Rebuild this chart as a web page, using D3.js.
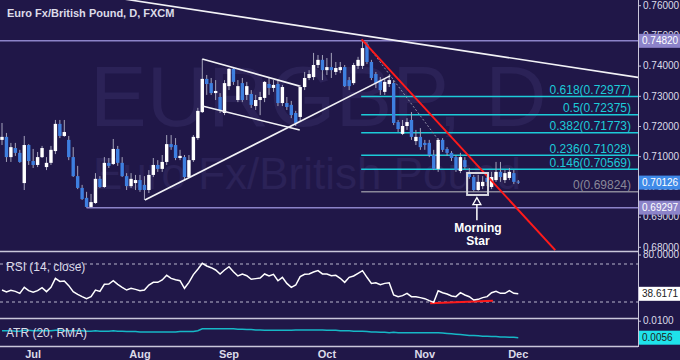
<!DOCTYPE html>
<html>
<head>
<meta charset="utf-8">
<script src="https://cdn.jsdelivr.net/npm/d3@7"></script>
<style>
  body { margin: 0; background: #201748; }
  svg { display: block; }
</style>
</head>
<body>
<svg id="chart" width="680" height="360"></svg>
<script>
// month ticks (bar index of first trading day)
const monthLabels = ['Jul', 'Aug', 'Sep', 'Oct', 'Nov', 'Dec'];
const monthIdx = [7, 31, 51, 73, 95, 116];

// daily OHLC, EUR/GBP
const open = [0.7154,0.7164,0.7097,0.7127,0.7111,0.7011,0.7137,0.7084,0.7071,0.7097,
0.7064,0.7078,0.7117,0.7207,0.7167,0.7154,0.7097,0.7034,0.6995,0.6962,
0.6932,0.6945,0.7025,0.6998,0.7078,0.7074,0.7124,0.7078,0.7034,0.7001,
0.7011,0.7021,0.7005,0.6988,0.7038,0.7071,0.7058,0.7081,0.7140,0.7137,
0.7094,0.7097,0.7031,0.7087,0.7160,0.7246,0.7356,0.7342,0.7309,0.7296,
0.7243,0.7332,0.7389,0.7286,0.7342,0.7303,0.7306,0.7266,0.7286,0.7293,
0.7339,0.7326,0.7339,0.7276,0.7276,0.7270,0.7243,0.7230,0.7329,0.7359,
0.7362,0.7402,0.7419,0.7385,0.7395,0.7379,0.7385,0.7395,0.7352,0.7342,
0.7399,0.7399,0.7471,0.7412,0.7372,0.7352,0.7313,0.7339,0.7342,0.7213,
0.7174,0.7200,0.7220,0.7150,0.7164,0.7144,0.7144,0.7104,0.7058,0.7154,
0.7124,0.7111,0.7097,0.7051,0.7087,0.7048,0.7031,0.6988,0.7001,0.7028,
0.6998,0.7021,0.7048,0.7021,0.7028,0.7044,0.7016];
const high = [0.7210,0.7177,0.7144,0.7144,0.7121,0.7167,0.7140,0.7124,0.7114,0.7134,
0.7097,0.7134,0.7220,0.7220,0.7220,0.7167,0.7130,0.7068,0.7005,0.6982,
0.6975,0.7044,0.7034,0.7097,0.7094,0.7157,0.7134,0.7097,0.7044,0.7044,
0.7038,0.7038,0.7034,0.7054,0.7094,0.7087,0.7104,0.7170,0.7170,0.7160,
0.7121,0.7104,0.7104,0.7170,0.7260,0.7422,0.7369,0.7359,0.7352,0.7309,
0.7352,0.7392,0.7392,0.7352,0.7359,0.7346,0.7319,0.7303,0.7313,0.7349,
0.7359,0.7352,0.7352,0.7336,0.7296,0.7283,0.7250,0.7336,0.7379,0.7385,
0.7442,0.7435,0.7435,0.7425,0.7442,0.7412,0.7412,0.7402,0.7362,0.7409,
0.7429,0.7482,0.7478,0.7419,0.7379,0.7362,0.7356,0.7369,0.7352,0.7220,
0.7220,0.7226,0.7246,0.7187,0.7193,0.7154,0.7154,0.7121,0.7160,0.7160,
0.7130,0.7117,0.7104,0.7111,0.7097,0.7061,0.7038,0.7038,0.7034,0.7038,
0.7048,0.7081,0.7081,0.7054,0.7061,0.7054,0.7021];
const low = [0.7137,0.7081,0.7081,0.7101,0.7078,0.6988,0.7071,0.7061,0.7064,0.7094,
0.7054,0.7071,0.7107,0.7160,0.7164,0.7087,0.7031,0.6991,0.6955,0.69297,
0.6930,0.6942,0.6995,0.6995,0.7061,0.7071,0.7068,0.7031,0.6988,0.6995,
0.6988,0.6982,0.6955,0.6978,0.7031,0.7048,0.7048,0.7071,0.7121,0.7087,
0.7087,0.7021,0.7028,0.7081,0.7154,0.7243,0.7303,0.7303,0.7286,0.7243,
0.7236,0.7319,0.7336,0.7279,0.7279,0.7286,0.7260,0.7253,0.7236,0.7279,
0.7303,0.7313,0.7266,0.7266,0.7253,0.7226,0.7200,0.7213,0.7319,0.7352,
0.7352,0.7392,0.7352,0.7369,0.7359,0.7369,0.7375,0.7329,0.7319,0.7336,
0.7389,0.7389,0.7405,0.7352,0.7326,0.7303,0.7303,0.7329,0.7203,0.7180,
0.7170,0.7187,0.7154,0.7137,0.7121,0.7121,0.7097,0.7054,0.7048,0.7114,
0.7101,0.7084,0.7048,0.7044,0.7058,0.7025,0.69824,0.6985,0.6991,0.7001,
0.6991,0.7015,0.7015,0.7011,0.7021,0.7008,0.7008];
const close = [0.7164,0.7097,0.7130,0.7111,0.7081,0.7137,0.7084,0.7071,0.7097,0.7127,
0.7078,0.7121,0.7207,0.7167,0.7180,0.7097,0.7034,0.6995,0.6958,0.6932,
0.6948,0.7025,0.6998,0.7078,0.7068,0.7124,0.7078,0.7034,0.7001,0.7025,
0.7021,0.6988,0.6988,0.7038,0.7071,0.7058,0.7081,0.7140,0.7130,0.7094,
0.7101,0.7031,0.7087,0.7164,0.7250,0.7356,0.7339,0.7309,0.7316,0.7253,
0.7342,0.7389,0.7346,0.7332,0.7286,0.7332,0.7270,0.7286,0.7296,0.7346,
0.7326,0.7336,0.7276,0.7329,0.7263,0.7236,0.7210,0.7329,0.7359,0.7372,
0.7402,0.7419,0.7385,0.7395,0.7385,0.7392,0.7395,0.7332,0.7332,0.7402,
0.7419,0.7458,0.7412,0.7359,0.7342,0.7319,0.7346,0.7352,0.7210,0.7190,
0.7200,0.7213,0.7164,0.7164,0.7130,0.7137,0.7104,0.7058,0.7154,0.7121,
0.7111,0.7094,0.7054,0.7097,0.7064,0.7031,0.6988,0.7015,0.7015,0.7015,
0.7031,0.7048,0.7031,0.7044,0.7048,0.7015,0.70126];

// RSI(14, close)
const rsi = [42.6,40.5,42.3,41.2,39.1,45.4,41.9,40.2,41.9,45.1,
40.9,45.4,54.9,51.7,52.1,47.2,40.9,38.1,35.6,33.5,
35.6,42.6,41.2,48.6,48.9,52.4,48.6,45.4,42.6,44.4,
43.3,41.9,42.6,47.9,50.7,50.7,53.2,58.1,54.9,53.5,
52.4,44.4,50.7,58.8,64.4,70.7,67.9,66.1,63.7,59.5,
63.7,67.2,61.9,57.4,59.5,57.7,53.9,54.6,55.3,59.5,
57.4,59.1,52.4,56.0,49.6,45.4,47.9,56.7,59.1,59.5,
61.6,63.0,59.5,59.5,57.7,58.1,55.0,50.7,56.0,57.4,
60.2,63.0,56.0,49.6,50.3,48.2,49.6,50.3,37.4,35.6,
36.7,39.1,35.6,35.6,34.6,33.5,31.4,29.6,41.9,39.8,
38.4,36.3,35.6,39.8,37.4,35.6,32.1,32.8,34.6,35.6,
39.8,41.2,39.1,39.1,41.9,39.1,38.6171];

// ATR(20, RMA)
const atr = [0.0074,0.0074,0.0074,0.0073,0.0073,0.0075,0.0075,0.0074,0.0074,0.0074,
0.0074,0.0074,0.0075,0.0075,0.0074,0.0074,0.0074,0.0074,0.0074,0.0073,
0.0073,0.0074,0.0073,0.0073,0.0073,0.0074,0.0073,0.0073,0.0072,0.0072,
0.0072,0.0071,0.0071,0.0071,0.0071,0.0071,0.0071,0.0071,0.0071,0.0071,
0.0072,0.0072,0.0072,0.0072,0.0074,0.0079,0.0079,0.0079,0.0079,0.0079,
0.0079,0.0079,0.0079,0.0078,0.0078,0.0077,0.0077,0.0076,0.0076,0.0075,
0.0075,0.0075,0.0075,0.0075,0.0075,0.0075,0.0076,0.0076,0.0076,0.0076,
0.0076,0.0076,0.0076,0.0075,0.0075,0.0075,0.0074,0.0074,0.0074,0.0073,
0.0073,0.0073,0.0072,0.0071,0.0071,0.0070,0.0070,0.0069,0.0070,0.0069,
0.0069,0.0069,0.0069,0.0069,0.0069,0.0069,0.0069,0.0069,0.0069,0.0068,
0.0067,0.0066,0.0065,0.0064,0.0063,0.0062,0.0062,0.0061,0.0060,0.0060,
0.0059,0.0059,0.0058,0.0058,0.0057,0.0057,0.0056];

const priceTicks = [0.68, 0.69, 0.70, 0.71, 0.72, 0.73, 0.74, 0.75, 0.76];
const fibRatios = ['0.618', '0.5', '0.382', '0.236', '0.146', '0'];
const fibPrices = [0.72977, 0.72375, 0.71773, 0.71028, 0.70569, 0.69824];
const swingHigh = 0.74820, swingLow = 0.69297;

// drawn studies, [bar index, price]
const longTrend = [[27.6, 0.7620], [142.9, 0.7361]];
const riseTrend = [[32.1, 0.6955], [87.2, 0.7366]];
const flagTop = [[45, 0.7422], [66.9, 0.7332]];
const flagBottom = [[45, 0.7266], [66.9, 0.7187]];
const redTrend = [[80.8, 0.7487], [124.3, 0.6789]];
const dotTrend = [[81.6, 0.7478], [98.4, 0.7147]];
const rsiSupport = [[96.2, 28.8], [110.3, 31.4]];
const fibStart = 80.7;
const starBox = [[104.5, 0.70444], [109.2, 0.69716]];
const starArrow = [[106.7, 0.6888], [106.7, 0.6963]];

const bg = '#201748', blue = '#3e7fe0', cyan = '#1ccbd8', purple = '#8c83c9';
const axisCol = '#c9c6da', textCol = '#dcdbe8';
const font = "'Liberation Sans', Arial, sans-serif";
const plotR = 638;

const svg = d3.select('#chart');
svg.append('rect').attr('width', 680).attr('height', 360).attr('fill', bg);

const x = d3.scaleLinear().domain([-0.45, 142.9]).range([0, plotR]);
const yP = d3.scaleLinear().domain([0.67861, 0.76172]).range([251, 0]);
const yR = d3.scaleLinear().domain([30, 70]).range([302, 264]);
const yA = d3.scaleLinear().domain([0.0056, 0.0100]).range([337.7, 320.7]);

const defs = svg.append('defs');
[['clipP', 0, 251], ['clipR', 252, 318], ['clipA', 319, 346]].forEach(([id, t, b]) => {
  defs.append('clipPath').attr('id', id).append('rect')
    .attr('x', 0).attr('y', t).attr('width', plotR).attr('height', b - t);
});

// watermark
const wm = svg.append('g').attr('clip-path', 'url(#clipP)').attr('fill', '#2b2257')
  .style('font-family', font);
wm.append('text').attr('x', 90).attr('y', 126).style('font-size', '85px').text('EURGBP, D');
wm.append('text').attr('x', 93).attr('y', 189).style('font-size', '44px').text('Euro Fx/British Pound');

// title
svg.append('text').attr('x', 7).attr('y', 17).attr('fill', textCol)
  .style('font', `bold 11px ${font}`).text('Euro Fx/British Pound, D, FXCM');

const pg = svg.append('g').attr('clip-path', 'url(#clipP)');
const seg = d3.line().x(d => x(d[0])).y(d => yP(d[1]));

// key levels
pg.append('line').attr('x1', 0).attr('x2', plotR)
  .attr('y1', yP(swingHigh)).attr('y2', yP(swingHigh))
  .attr('stroke', purple).attr('stroke-width', 1.5);
pg.append('line').attr('x1', x(19)).attr('x2', plotR)
  .attr('y1', yP(swingLow)).attr('y2', yP(swingLow))
  .attr('stroke', purple).attr('stroke-width', 1.5);

// fibonacci retracements
fibPrices.forEach((p, i) => {
  const col = i === fibPrices.length - 1 ? '#8a8899' : cyan;
  pg.append('line').attr('x1', x(fibStart)).attr('x2', plotR)
    .attr('y1', yP(p)).attr('y2', yP(p)).attr('stroke', col).attr('stroke-width', 1.5);
  pg.append('text').attr('x', 631).attr('y', yP(p) - 2.5).attr('text-anchor', 'end')
    .attr('fill', col).style('font', `12px ${font}`)
    .text(`${fibRatios[i]}(${p.toFixed(5)})`);
});

// candles
const idx = d3.range(open.length);
pg.append('g').selectAll('line').data(idx).join('line')
  .attr('x1', i => x(i)).attr('x2', i => x(i))
  .attr('y1', i => yP(high[i])).attr('y2', i => yP(low[i]))
  .attr('stroke', '#a4a3bb').attr('stroke-width', 1);
pg.append('g').selectAll('rect').data(idx).join('rect')
  .attr('x', i => x(i) - 1.7).attr('width', 3.4)
  .attr('y', i => yP(Math.max(open[i], close[i])))
  .attr('height', i => Math.max(1, Math.abs(yP(open[i]) - yP(close[i]))))
  .attr('fill', i => close[i] >= open[i] ? '#ffffff' : blue);

// trend lines
[longTrend, riseTrend, flagTop, flagBottom].forEach(l => {
  pg.append('path').attr('d', seg(l)).attr('fill', 'none')
    .attr('stroke', '#f2f2f6').attr('stroke-width', 1.6);
});
pg.append('path').attr('d', seg(dotTrend)).attr('fill', 'none')
  .attr('stroke', '#8f8ea6').attr('stroke-width', 1).attr('stroke-dasharray', '2,2');
pg.append('path').attr('d', seg(redTrend)).attr('fill', 'none')
  .attr('stroke', '#ff1a1a').attr('stroke-width', 2);

// morning star
pg.append('rect')
  .attr('x', x(starBox[0][0])).attr('y', yP(starBox[0][1]))
  .attr('width', x(starBox[1][0]) - x(starBox[0][0]))
  .attr('height', yP(starBox[1][1]) - yP(starBox[0][1]))
  .attr('fill', 'none').attr('stroke', '#d6d6de').attr('stroke-width', 2);
const ax0 = x(starArrow[0][0]), ayB = yP(starArrow[0][1]), ayT = yP(starArrow[1][1]);
pg.append('path').attr('d', `M${ax0},${ayB}V${ayT + 6}`).attr('stroke', '#fff').attr('stroke-width', 1.5);
pg.append('path').attr('d', `M${ax0 - 4},${ayT + 7}L${ax0},${ayT}L${ax0 + 4},${ayT + 7}Z`)
  .attr('fill', bg).attr('stroke', '#fff').attr('stroke-width', 1.3);
pg.append('text').attr('x', ax0 + 1).attr('y', ayB + 12).attr('text-anchor', 'middle')
  .attr('fill', '#fff').style('font', `bold 12px ${font}`).text('Morning');
pg.append('text').attr('x', ax0 + 1).attr('y', ayB + 25).attr('text-anchor', 'middle')
  .attr('fill', '#fff').style('font', `bold 12px ${font}`).text('Star');

// RSI panel
const rg = svg.append('g').attr('clip-path', 'url(#clipR)');
[70, 30].forEach(v => {
  rg.append('line').attr('x1', 0).attr('x2', plotR).attr('y1', yR(v)).attr('y2', yR(v))
    .attr('stroke', '#b8b6cc').attr('stroke-dasharray', '3,3');
});
rg.append('path').attr('d', d3.line().x(d => x(d[0])).y(d => yR(d[1]))(rsiSupport))
  .attr('stroke', '#ff1a1a').attr('stroke-width', 2);
rg.append('path').datum(rsi).attr('fill', 'none').attr('stroke', '#ffffff').attr('stroke-width', 1.5)
  .attr('d', d3.line().x((d, i) => x(i)).y(d => yR(d)));
svg.append('text').attr('x', 6).attr('y', 271).attr('fill', textCol)
  .style('font', `12px ${font}`).text('RSI (14, close)');

// ATR panel
const ag = svg.append('g').attr('clip-path', 'url(#clipA)');
ag.append('path').datum(atr).attr('fill', 'none').attr('stroke', '#16b7c6').attr('stroke-width', 1.5)
  .attr('d', d3.line().x((d, i) => x(i)).y(d => yA(d)));
svg.append('text').attr('x', 6).attr('y', 337).attr('fill', textCol)
  .style('font', `12px ${font}`).text('ATR (20, RMA)');

// panel frames
[251.5, 318.5, 346.5].forEach(y => {
  svg.append('line').attr('x1', 0).attr('x2', plotR).attr('y1', y).attr('y2', y)
    .attr('stroke', axisCol).attr('stroke-width', 1.5);
});
svg.append('line').attr('x1', plotR + 0.5).attr('x2', plotR + 0.5).attr('y1', 0).attr('y2', 347)
  .attr('stroke', axisCol).attr('stroke-width', 1);

// right axes
function styleAxis(g) {
  g.select('.domain').remove();
  g.selectAll('line').attr('stroke', axisCol);
  g.selectAll('text').attr('fill', textCol).style('font', `10px ${font}`);
}
svg.append('g').attr('transform', `translate(${plotR},0)`)
  .call(d3.axisRight(yP).tickValues(priceTicks).tickFormat(d3.format('.5f')).tickSize(3).tickPadding(2))
  .call(styleAxis);
svg.append('g').attr('transform', `translate(${plotR},0)`)
  .call(d3.axisRight(yR).tickValues([80]).tickFormat(d3.format('.4f')).tickSize(3).tickPadding(2))
  .call(styleAxis);
svg.append('g').attr('transform', `translate(${plotR},0)`)
  .call(d3.axisRight(yA).tickValues([0.01]).tickFormat(d3.format('.4f')).tickSize(3).tickPadding(2))
  .call(styleAxis);

// value tags on the axis
function tag(y, label, fill, col) {
  svg.append('rect').attr('x', plotR + 1).attr('y', y - 7).attr('width', 41).attr('height', 14).attr('fill', fill);
  svg.append('text').attr('x', plotR + 4).attr('y', y + 3.5).attr('fill', col)
    .style('font', `10px ${font}`).text(label);
}
tag(yP(swingHigh), swingHigh.toFixed(5), purple, '#ffffff');
tag(yP(close[close.length - 1]), close[close.length - 1].toFixed(5), '#3f8ae8', '#ffffff');
tag(yP(swingLow), swingLow.toFixed(5), purple, '#ffffff');
tag(yR(rsi[rsi.length - 1]), rsi[rsi.length - 1].toFixed(4), '#ffffff', '#222222');
tag(yA(atr[atr.length - 1]), atr[atr.length - 1].toFixed(4), '#1fe2ea', '#222222');

// month labels
svg.append('g').selectAll('text').data(monthLabels).join('text')
  .attr('x', (d, i) => x(monthIdx[i])).attr('y', 358).attr('text-anchor', 'middle')
  .attr('fill', textCol).style('font', `bold 11px ${font}`).text(d => d);
</script>
</body>
</html>
